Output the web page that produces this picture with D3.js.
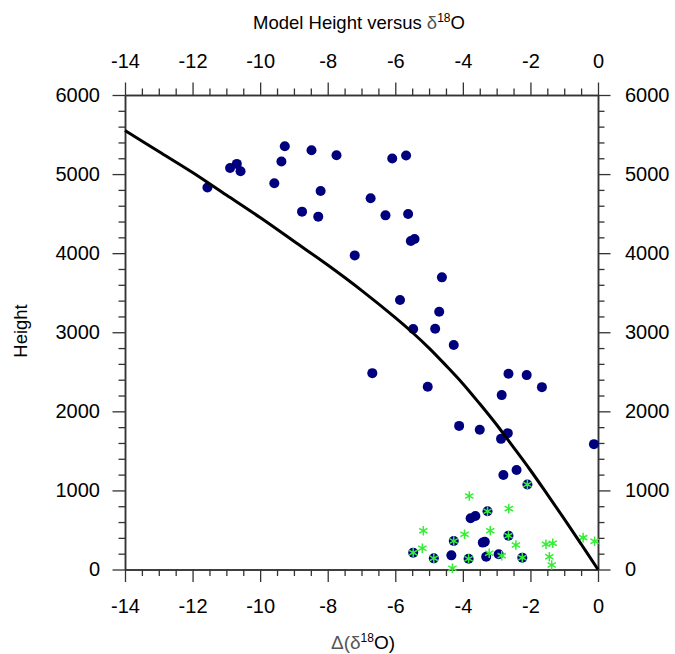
<!DOCTYPE html>
<html>
<head>
<meta charset="utf-8">
<script src="https://cdn.jsdelivr.net/npm/d3@7"></script>
<style>
  body { margin: 0; background: #fff; }
  text { font-family: "Liberation Sans", Arial, Helvetica, sans-serif; }
</style>
</head>
<body>
<div id="chart"></div>
<script>
const width = 675;
const height = 654;

// tick values
const xMajor = [-14, -12, -10, -8, -6, -4, -2, 0];
const yMajor = [0, 1000, 2000, 3000, 4000, 5000, 6000];

// model curve
const curveX = [0, -0.5, -1, -1.5, -2, -2.5, -3, -3.5, -4, -4.5, -5, -5.5, -6, -7, -8, -9, -10, -11, -12, -13, -14];
const curveY = [0, 322, 640, 950, 1255, 1545, 1830, 2095, 2350, 2580, 2800, 3000, 3185, 3530, 3850, 4150, 4450, 4735, 5020, 5285, 5550];

// blue dots
const dotX = [-11.56, -10.89, -10.69, -10.58, -9.58, -9.37, -9.27, -8.76, -8.48, -8.28,
  -8.21, -7.74, -7.20, -6.73, -6.68, -6.29, -6.09, -5.86, -5.68, -5.62,
  -5.54, -5.43, -5.47, -5.04, -4.82, -4.70, -4.62, -4.27, -4.11, -3.50,
  -2.85, -2.65, -2.87, -2.67, -2.11, -1.66, -2.80, -2.41, -0.12,
  -3.77, -3.63, -3.41, -3.35, -4.34, -3.31, -2.94,
  -5.47, -4.86, -4.27, -3.83, -3.27, -2.65, -2.24, -2.09];
const dotY = [4830, 5078, 5129, 5036, 4884, 5158, 5352, 4525, 5301, 4462,
  4787, 5238, 3972, 4694, 2483, 4478, 5196, 3407, 5234, 4496,
  4154, 4180, 3040, 2310, 3044, 3259, 3694, 2838, 1816, 1766,
  2205, 2475, 1652, 1724, 2458, 2306, 1196, 1259, 1585,
  648, 677, 340, 352, 179, 162, 192,
  213, 141, 361, 137, 736, 428, 150, 1074];

// green stars
const starX = [-3.81, -5.17, -5.20, -4.31, -3.95, -3.19, -3.22, -2.85, -2.64, -2.43,
  -1.54, -1.34, -1.44, -1.37, -0.44, -0.10,
  -5.47, -4.86, -4.27, -3.83, -3.27, -2.65, -2.24, -2.09];
const starY = [930, 491, 268, 15, 445, 491, 205, 175, 770, 310,
  319, 331, 162, 57, 403, 357,
  213, 141, 361, 137, 736, 428, 150, 1074];

const margin = { left: 125, right: 77, top: 95, bottom: 84.5 };
const plotW = width - margin.left - margin.right;
const plotH = height - margin.top - margin.bottom;

const x = d3.scaleLinear().domain([-14, 0]).range([0, plotW]);
const y = d3.scaleLinear().domain([0, 6000]).range([plotH, 0]);

const xMinor = d3.range(-14, 0.01, 0.5).filter(v => !xMajor.includes(v));
const yMinor = d3.range(0, 6001, 200).filter(v => !yMajor.includes(v));

const svg = d3.select('#chart').append('svg')
  .attr('width', width)
  .attr('height', height);

const g = svg.append('g').attr('transform', `translate(${margin.left},${margin.top})`);

// axes: major and minor ticks on all four sides
function styleAxis(sel) {
  sel.selectAll('path').attr('stroke', '#333').attr('stroke-width', 1.5);
  sel.selectAll('line').attr('stroke', '#333').attr('stroke-width', 1.3);
  sel.selectAll('text').attr('fill', '#000').style('font-size', '20px')
    .attr('font-family', '"Liberation Sans", Arial, sans-serif');
}

const fmt = d => d;

g.append('g').attr('transform', `translate(0,${plotH})`)
  .call(d3.axisBottom(x).tickValues(xMajor).tickSize(12.5).tickPadding(17).tickSizeOuter(0).tickFormat(fmt))
  .call(styleAxis);
g.append('g').attr('transform', `translate(0,${plotH})`)
  .call(d3.axisBottom(x).tickValues(xMinor).tickSize(6.5).tickSizeOuter(0).tickFormat(''))
  .call(styleAxis);

g.append('g')
  .call(d3.axisTop(x).tickValues(xMajor).tickSize(12.5).tickPadding(14.5).tickSizeOuter(0).tickFormat(fmt))
  .call(styleAxis);
g.append('g')
  .call(d3.axisTop(x).tickValues(xMinor).tickSize(6.5).tickSizeOuter(0).tickFormat(''))
  .call(styleAxis);

g.append('g')
  .call(d3.axisLeft(y).tickValues(yMajor).tickSize(12.5).tickPadding(12.5).tickSizeOuter(0).tickFormat(fmt))
  .call(styleAxis);
g.append('g')
  .call(d3.axisLeft(y).tickValues(yMinor).tickSize(6.5).tickSizeOuter(0).tickFormat(''))
  .call(styleAxis);

g.append('g').attr('transform', `translate(${plotW},0)`)
  .call(d3.axisRight(y).tickValues(yMajor).tickSize(12.5).tickPadding(14.5).tickSizeOuter(0).tickFormat(fmt))
  .call(styleAxis);
g.append('g').attr('transform', `translate(${plotW},0)`)
  .call(d3.axisRight(y).tickValues(yMinor).tickSize(6.5).tickSizeOuter(0).tickFormat(''))
  .call(styleAxis);

// blue dots
g.append('g').attr('id', 'dots').selectAll('circle')
  .data(dotX.map((v, i) => [v, dotY[i]]))
  .enter()
  .append('circle')
  .attr('cx', d => x(d[0]))
  .attr('cy', d => y(d[1]))
  .attr('r', 5)
  .attr('fill', '#00007f');

// green asterisks
const star = d3.symbol().type(d3.symbolAsterisk).size(64);
g.append('g').attr('id', 'stars').selectAll('path')
  .data(starX.map((v, i) => [v, starY[i]]))
  .enter()
  .append('path')
  .attr('d', star)
  .attr('transform', d => `translate(${x(d[0])},${y(d[1])})`)
  .attr('fill', 'none')
  .attr('stroke', '#33ee33')
  .attr('stroke-width', 1.5);

// model curve
const line = d3.line()
  .x(d => x(d[0]))
  .y(d => y(d[1]))
  .curve(d3.curveCatmullRom);

g.append('path')
  .datum(curveX.map((v, i) => [v, curveY[i]]).reverse())
  .attr('d', line)
  .attr('fill', 'none')
  .attr('stroke', '#000')
  .attr('stroke-width', 3);

// title
const title = svg.append('text')
  .attr('x', 359)
  .attr('y', 29)
  .attr('text-anchor', 'middle')
  .style('font-size', '18.5px');
title.append('tspan').text('Model Height versus ');
title.append('tspan').text('δ').attr('fill', '#555').style('font-weight', '300');
title.append('tspan').text('18').style('font-size', '12px').attr('dy', -7);
title.append('tspan').text('O').attr('dy', 7);

// x label
const xl = svg.append('text')
  .attr('x', 363)
  .attr('y', 649)
  .attr('text-anchor', 'middle')
  .style('font-size', '19px');
xl.append('tspan').text('Δ(').attr('fill', '#555');
xl.append('tspan').text('δ').attr('fill', '#555');
xl.append('tspan').text('18').style('font-size', '12px').attr('dy', -7);
xl.append('tspan').text('O)').attr('dy', 7);

// y label
svg.append('text')
  .attr('transform', 'translate(27,331) rotate(-90)')
  .attr('text-anchor', 'middle')
  .style('font-size', '18.5px')
  .text('Height');
</script>
</body>
</html>
